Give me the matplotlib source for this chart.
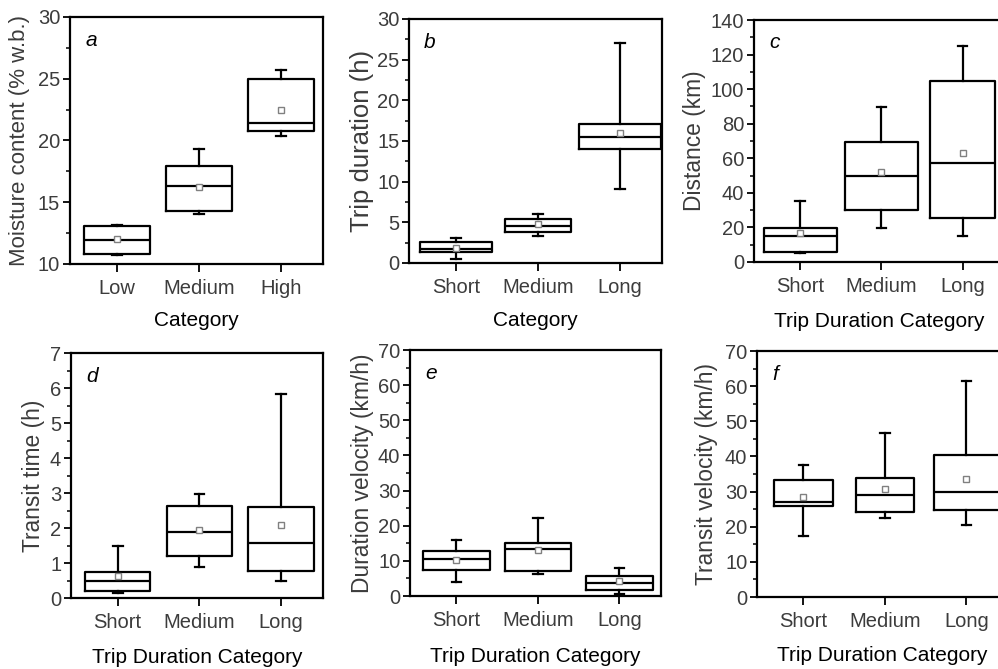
import matplotlib
matplotlib.use("Agg")
import matplotlib.pyplot as plt
from matplotlib.ticker import MultipleLocator

plt.rcParams['font.family'] = ['Liberation Sans', 'DejaVu Sans']

# ---------------- data ----------------
cats_moist = ["Low", "Medium", "High"]
cats_trip = ["Short", "Medium", "Long"]

# panel a: moisture content (% w.b.)
a_whislo = [10.7, 14.05, 20.4]
a_q1 = [10.8, 14.3, 20.8]
a_med = [11.95, 16.35, 21.4]
a_q3 = [13.05, 17.95, 24.95]
a_whishi = [13.15, 19.35, 25.7]
a_mean = [12.05, 16.2, 22.5]

# panel b: trip duration (h)
b_whislo = [0.55, 3.35, 9.15]
b_q1 = [1.35, 3.8, 14.0]
b_med = [1.72, 4.6, 15.45]
b_q3 = [2.58, 5.4, 17.1]
b_whishi = [3.1, 6.0, 27.0]
b_mean = [1.9, 4.8, 16.0]

# panel c: distance (km)
c_whislo = [5.2, 19.8, 14.8]
c_q1 = [6.0, 30.2, 25.2]
c_med = [14.8, 49.9, 57.3]
c_q3 = [19.8, 69.7, 104.8]
c_whishi = [35.0, 89.5, 124.7]
c_mean = [16.7, 52.0, 63.2]

# panel d: transit time (h)
d_whislo = [0.13, 0.89, 0.5]
d_q1 = [0.19, 1.2, 0.78]
d_med = [0.49, 1.9, 1.56]
d_q3 = [0.75, 2.62, 2.6]
d_whishi = [1.5, 2.98, 5.82]
d_mean = [0.62, 1.93, 2.1]

# panel e: duration velocity (km/h)
e_whislo = [4.0, 6.4, 0.7]
e_q1 = [7.3, 7.1, 1.7]
e_med = [10.6, 13.5, 3.8]
e_q3 = [12.7, 15.0, 5.8]
e_whishi = [16.0, 22.3, 8.1]
e_mean = [10.2, 13.0, 4.4]

# panel f: transit velocity (km/h)
f_whislo = [17.4, 22.5, 20.4]
f_q1 = [25.9, 24.2, 24.8]
f_med = [27.0, 28.9, 30.0]
f_q3 = [33.3, 33.8, 40.5]
f_whishi = [37.7, 46.8, 61.4]
f_mean = [28.5, 30.6, 33.5]

panels = [
    dict(label="a", cats=cats_moist, lo=a_whislo, q1=a_q1, med=a_med, q3=a_q3, hi=a_whishi, mean=a_mean,
         ylim=(10, 30), major=5, minor=2.5, ylabel="Moisture content (% w.b.)", xlabel="Category",
         pos=[0.0701, 0.6054, 0.2535, 0.3692], widths=[0.8, 0.8, 0.8], ylc=-0.198, xlc=-0.227, yfs=16),
    dict(label="b", cats=cats_trip, lo=b_whislo, q1=b_q1, med=b_med, q3=b_q3, hi=b_whishi, mean=b_mean,
         ylim=(0, 30), major=5, minor=2.5, ylabel="Trip duration (h)", xlabel="Category",
         pos=[0.4098, 0.6069, 0.2535, 0.3647], widths=[0.88, 0.8, 1.0], ylc=-0.186, xlc=-0.234, yfs=18.5),
    dict(label="c", cats=cats_trip, lo=c_whislo, q1=c_q1, med=c_med, q3=c_q3, hi=c_whishi, mean=c_mean,
         ylim=(0, 140), major=20, minor=10, ylabel="Distance (km)", xlabel="Trip Duration Category",
         pos=[0.7555, 0.6084, 0.2505, 0.3617], widths=[0.9, 0.9, 0.8], ylc=-0.236, xlc=-0.244, yfs=16.4),
    dict(label="d", cats=cats_trip, lo=d_whislo, q1=d_q1, med=d_med, q3=d_q3, hi=d_whishi, mean=d_mean,
         ylim=(0, 7), major=1, minor=0.5, ylabel="Transit time (h)", xlabel="Trip Duration Category",
         pos=[0.0711, 0.1061, 0.2525, 0.3662], widths=[0.8, 0.8, 0.8], ylc=-0.15, xlc=-0.241, yfs=16.4),
    dict(label="e", cats=cats_trip, lo=e_whislo, q1=e_q1, med=e_med, q3=e_q3, hi=e_whishi, mean=e_mean,
         ylim=(0, 70), major=10, minor=5, ylabel="Duration velocity (km/h)", xlabel="Trip Duration Category",
         pos=[0.4108, 0.1091, 0.2515, 0.3677], widths=[0.82, 0.82, 0.82], ylc=-0.19, xlc=-0.244, yfs=16.4),
    dict(label="f", cats=cats_trip, lo=f_whislo, q1=f_q1, med=f_med, q3=f_q3, hi=f_whishi, mean=f_mean,
         ylim=(0, 70), major=10, minor=5, ylabel="Transit velocity (km/h)", xlabel="Trip Duration Category",
         pos=[0.7585, 0.1076, 0.2515, 0.3677], widths=[0.72, 0.72, 0.8], ylc=-0.2, xlc=-0.236, yfs=16.4),
]

fig = plt.figure(figsize=(9.98, 6.69), dpi=100)
LW = 1.6
tick_color = "#3c3c3c"

for p in panels:
    ax = fig.add_axes(p["pos"])
    stats = []
    for i, c in enumerate(p["cats"]):
        stats.append(dict(label=c, whislo=p["lo"][i], q1=p["q1"][i], med=p["med"][i],
                          q3=p["q3"][i], whishi=p["hi"][i], mean=p["mean"][i]))
    positions = list(range(1, len(stats) + 1))
    ax.bxp(stats, positions=positions, widths=p["widths"], showmeans=True, showfliers=False,
           capwidths=0.12,
           boxprops=dict(color="black", linewidth=LW),
           whiskerprops=dict(color="black", linewidth=LW),
           capprops=dict(color="black", linewidth=LW),
           medianprops=dict(color="black", linewidth=LW),
           meanprops=dict(marker="s", markerfacecolor="white", markeredgecolor="#808080",
                          markersize=5, markeredgewidth=1.0))
    ax.set_xlim(0.43, 3.51)
    ax.set_ylim(*p["ylim"])
    ax.yaxis.set_major_locator(MultipleLocator(p["major"]))
    ax.yaxis.set_minor_locator(MultipleLocator(p["minor"]))
    ax.set_xticks(positions)
    ax.set_xticklabels(p["cats"])
    for s in ax.spines.values():
        s.set_linewidth(LW)
    ax.tick_params(axis="y", which="major", direction="out", length=5, width=1.3,
                   labelsize=14.5, pad=2, labelcolor=tick_color)
    ax.tick_params(axis="y", which="minor", direction="out", length=3, width=1.1)
    ax.tick_params(axis="x", which="major", direction="out", length=6, width=1.3,
                   labelsize=14.5, pad=5, labelcolor=tick_color)
    ax.tick_params(axis="x", which="minor", bottom=False)
    ax.set_ylabel(p["ylabel"], fontsize=p["yfs"], color=tick_color, va="center")
    ax.yaxis.set_label_coords(p["ylc"], 0.5)
    ax.set_xlabel(p["xlabel"], fontsize=15, color="black", va="center")
    ax.xaxis.set_label_coords(0.5, p["xlc"])
    ax.text(0.06, 0.905, p["label"], transform=ax.transAxes, fontsize=15,
            fontstyle="italic", ha="left", va="center")

fig.savefig("out.png", dpi=100)
